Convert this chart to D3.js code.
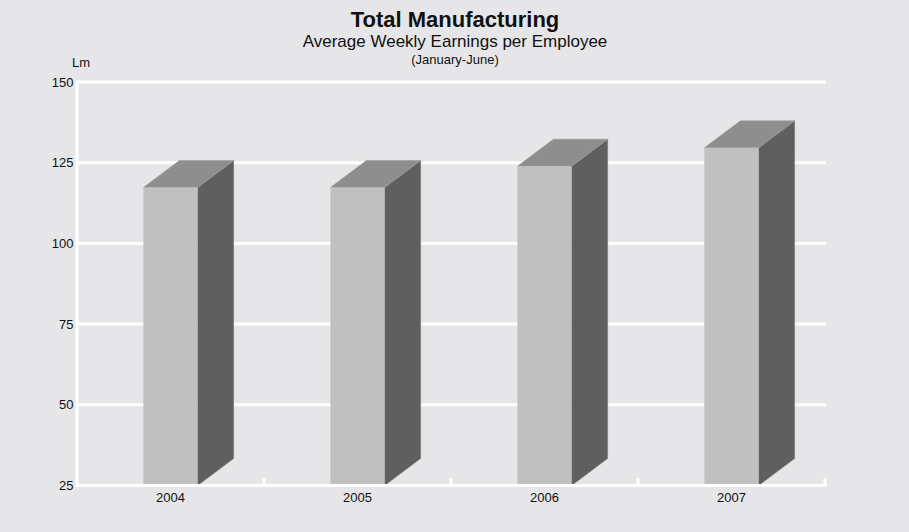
<!DOCTYPE html>
<html>
<head>
<meta charset="utf-8">
<script src="https://cdn.jsdelivr.net/npm/d3@7"></script>
<style>
  html, body { margin: 0; padding: 0; background: #e6e6e8; }
  svg { display: block; font-family: "Liberation Sans", Arial, Helvetica, sans-serif; }
</style>
</head>
<body>
<svg id="chart" width="909" height="532"></svg>
<script>
// Average weekly earnings per employee, total manufacturing (Lm)
const years = ["2004", "2005", "2006", "2007"];
const earnings = [117.3, 117.3, 123.9, 129.6];
const yTicks = [25, 50, 75, 100, 125, 150];

const titleText = "Total Manufacturing";
const subtitleText = "Average Weekly Earnings per Employee";
const periodText = "(January-June)";
const unitText = "Lm";

const W = 909, H = 532;
const plot = { left: 77, right: 825, top: 82, bottom: 485.5 };
const depth = { dx: 36, dy: 27 };
const barFrac = 0.29;

const colors = {
  bg: "#e6e6e8",
  grid: "#ffffff",
  front: "#c0c0c0",
  top: "#8e8e8e",
  side: "#5f5f5f",
  text: "#111111"
};

const svg = d3.select("#chart");

svg.append("rect").attr("width", W).attr("height", H).attr("fill", colors.bg);

const x = d3.scaleBand().domain(years).range([plot.left, plot.right]).padding(0);
const y = d3.scaleLinear().domain([25, 150]).range([plot.bottom, plot.top]);

// Horizontal gridlines
svg.append("g").selectAll("line").data(yTicks.filter(t => t !== 25)).join("line")
  .attr("x1", plot.left).attr("x2", plot.right + 1)
  .attr("y1", d => y(d)).attr("y2", d => y(d))
  .attr("stroke", colors.grid).attr("stroke-width", 3);

// Y tick labels
svg.append("g").selectAll("text").data(yTicks).join("text")
  .attr("x", plot.left - 3.5)
  .attr("y", d => y(d) + 4.6)
  .attr("text-anchor", "end")
  .attr("font-size", 13)
  .attr("fill", colors.text)
  .text(d => d);

// 3D bars: front, top and side faces
const bw = x.bandwidth() * barFrac;
const bars = svg.append("g").selectAll("g").data(years.map((yr, i) => ({ yr, v: earnings[i] }))).join("g");

bars.each(function (d) {
  const g = d3.select(this);
  const x0 = x(d.yr) + (x.bandwidth() - bw) / 2;
  const x1 = x0 + bw;
  const yt = y(d.v);
  const yb = y(25);
  const { dx, dy } = depth;

  g.append("path")
    .attr("d", `M${x1},${yt}L${x1 + dx},${yt - dy}L${x1 + dx},${yb - dy}L${x1},${yb}Z`)
    .attr("fill", colors.side)
    .attr("stroke", "#7a7a7a").attr("stroke-width", 0.6).attr("stroke-linejoin", "round");

  g.append("path")
    .attr("d", `M${x0},${yt}L${x1},${yt}L${x1 + dx},${yt - dy}L${x0 + dx},${yt - dy}Z`)
    .attr("fill", colors.top)
    .attr("stroke", "#9a9a9a").attr("stroke-width", 0.6).attr("stroke-linejoin", "round");

  g.append("rect")
    .attr("x", x0).attr("y", yt)
    .attr("width", bw).attr("height", yb - yt)
    .attr("fill", colors.front);
});

// Axis lines
svg.append("line")
  .attr("x1", plot.left).attr("x2", plot.left)
  .attr("y1", y(150) - 1.5).attr("y2", plot.bottom + 1.5)
  .attr("stroke", colors.grid).attr("stroke-width", 3);
svg.append("line")
  .attr("x1", plot.left - 1.5).attr("x2", plot.right + 1.5)
  .attr("y1", plot.bottom).attr("y2", plot.bottom)
  .attr("stroke", colors.grid).attr("stroke-width", 3);

// Category separator ticks on the x axis
svg.append("g").selectAll("line").data(years).join("line")
  .attr("x1", d => x(d) + x.bandwidth()).attr("x2", d => x(d) + x.bandwidth())
  .attr("y1", plot.bottom).attr("y2", plot.bottom - 7.5)
  .attr("stroke", colors.grid).attr("stroke-width", 3);

// X labels
svg.append("g").selectAll("text").data(years).join("text")
  .attr("x", d => x(d) + x.bandwidth() / 2)
  .attr("y", 502)
  .attr("text-anchor", "middle")
  .attr("font-size", 13)
  .attr("fill", colors.text)
  .text(d => d);

// Titles
svg.append("text").attr("x", 455).attr("y", 26.5).attr("text-anchor", "middle")
  .attr("font-size", 22).attr("font-weight", "bold").attr("fill", colors.text).text(titleText);
svg.append("text").attr("x", 455).attr("y", 47.3).attr("text-anchor", "middle")
  .attr("font-size", 17).attr("fill", colors.text).text(subtitleText);
svg.append("text").attr("x", 455).attr("y", 63.5).attr("text-anchor", "middle")
  .attr("font-size", 13).attr("fill", colors.text).text(periodText);
svg.append("text").attr("x", 72).attr("y", 66.7)
  .attr("font-size", 13).attr("fill", colors.text).text(unitText);
</script>
</body>
</html>
